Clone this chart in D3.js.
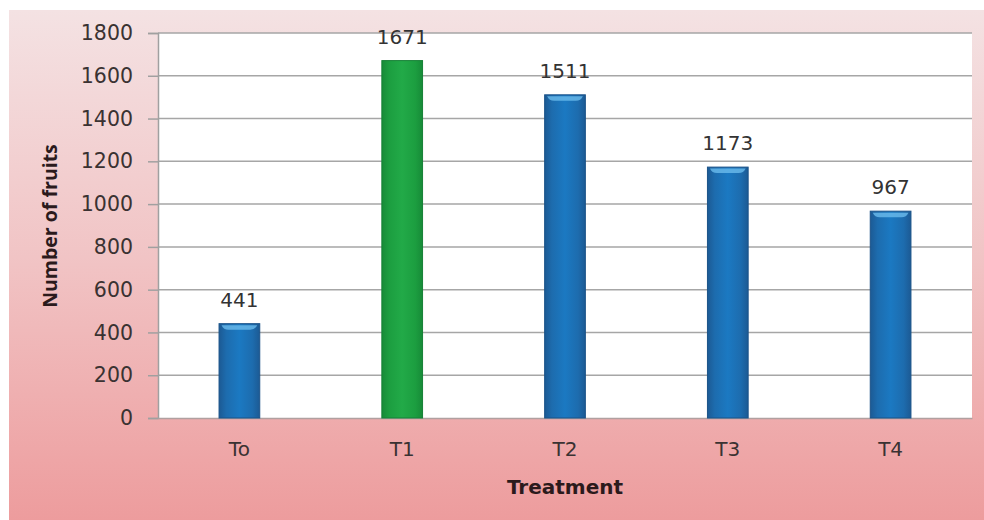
<!DOCTYPE html>
<html><head><meta charset="utf-8">
<script src="https://cdn.jsdelivr.net/npm/d3@7"></script>
<style>html,body{margin:0;padding:0;background:#fff;}svg{display:block;}</style>
</head><body>
<svg id="chart" width="984" height="520"></svg>
<script>
const categories = ["To", "T1", "T2", "T3", "T4"];
const values = [441, 1671, 1511, 1173, 967];
const highlight = ["T1"];
const yTicks = [0, 200, 400, 600, 800, 1000, 1200, 1400, 1600, 1800];
const xTitle = "Treatment";
const yTitle = "Number of fruits";

const W = 984, H = 520;
const svg = d3.select("#chart");
const defs = svg.append("defs");

const bg = defs.append("linearGradient").attr("id","bg").attr("x1",0).attr("y1",0).attr("x2",0).attr("y2",1);
bg.append("stop").attr("offset","0%").attr("stop-color","#f4e2e3");
bg.append("stop").attr("offset","50%").attr("stop-color","#f1c3c4");
bg.append("stop").attr("offset","100%").attr("stop-color","#ed9c9d");

function barGrad(id, edge, mid, center){
  const g = defs.append("linearGradient").attr("id",id).attr("x1",0).attr("y1",0).attr("x2",1).attr("y2",0);
  g.append("stop").attr("offset","0%").attr("stop-color",edge);
  g.append("stop").attr("offset","18%").attr("stop-color",mid);
  g.append("stop").attr("offset","50%").attr("stop-color",center);
  g.append("stop").attr("offset","82%").attr("stop-color",mid);
  g.append("stop").attr("offset","100%").attr("stop-color",edge);
}
barGrad("blue","#1c5a94","#1d6cae","#1b79c2");
barGrad("green","#178b38","#1c9e40","#22aa48");

svg.append("rect").attr("x",9).attr("y",10).attr("width",W-9).attr("height",H-10).attr("fill","url(#bg)");

const m = {left:158, right:972, top:33, bottom:418};
const x = d3.scaleBand().domain(categories).range([m.left, m.right]).paddingInner(0.75).paddingOuter(0.375);
const y = d3.scaleLinear().domain([0,1800]).range([m.bottom, m.top]);

svg.append("rect").attr("x",m.left).attr("y",m.top).attr("width",m.right-m.left).attr("height",m.bottom-m.top).attr("fill","#ffffff");

svg.append("g").selectAll("line").data(yTicks.filter(d=>d>0)).join("line")
  .attr("x1",m.left).attr("x2",m.right).attr("y1",d=>y(d)).attr("y2",d=>y(d))
  .attr("stroke","#a6a6a6").attr("stroke-width",1.5);

const yAxis = svg.append("g").attr("transform",`translate(${m.left},0)`)
  .call(d3.axisLeft(y).tickValues(yTicks).tickSize(10).tickPadding(15).tickFormat(d3.format("d")));
yAxis.select(".domain").attr("stroke","#a0a0a0").attr("stroke-width",1.5);
yAxis.selectAll(".tick line").attr("stroke","#a0a0a0").attr("stroke-width",1.5);
yAxis.selectAll(".tick text").attr("font-family","'DejaVu Sans', sans-serif").attr("font-size",20.5).attr("fill","#3a3232");

const xAxis = svg.append("g").attr("transform",`translate(0,${m.bottom})`)
  .call(d3.axisBottom(x).tickSize(0).tickPadding(24));
xAxis.select(".domain").attr("stroke","#b0a0a0").attr("stroke-width",1.5);
xAxis.selectAll(".tick text").attr("font-family","'DejaVu Sans', sans-serif").attr("font-size",20).attr("fill","#3a3232");

const data = categories.map((c,i)=>({c, v:values[i]}));
const bars = svg.append("g");
bars.selectAll("rect.bar").data(data).join("rect").attr("class","bar")
  .attr("x",d=>x(d.c)).attr("y",d=>y(d.v)).attr("width",x.bandwidth()).attr("height",d=>y(0)-y(d.v))
  .attr("fill",d=>highlight.includes(d.c)?"url(#green)":"url(#blue)")
  .attr("stroke",d=>highlight.includes(d.c)?"#168036":"#1a5288").attr("stroke-width",1);
bars.selectAll("path.cap").data(data.filter(d=>!highlight.includes(d.c))).join("path").attr("class","cap")
  .attr("d",d=>{const x0=x(d.c)+2.5, x1=x(d.c)+x.bandwidth()-2.5, y0=y(d.v)+1.5;
     return `M${x0},${y0} L${x1},${y0} Q${x1-2},${y0+4.5} ${x1-7},${y0+4.5} L${x0+7},${y0+4.5} Q${x0+2},${y0+4.5} ${x0},${y0} Z`;})
  .attr("fill","#6bbcec").attr("opacity",0.8);

svg.append("g").selectAll("text").data(data).join("text")
  .attr("x",d=>x(d.c)+x.bandwidth()/2).attr("y",d=>y(d.v)-17)
  .attr("text-anchor","middle").attr("font-family","'DejaVu Sans', sans-serif").attr("font-size",20).attr("fill","#333")
  .text(d=>d.v);

svg.append("text").attr("x",(m.left+m.right)/2).attr("y",494).attr("text-anchor","middle")
  .attr("font-family","'DejaVu Sans', sans-serif").attr("font-weight","bold").attr("font-size",20).attr("fill","#2b1a1c")
  .text(xTitle);
svg.append("text").attr("transform","translate(57,226) rotate(-90)").attr("text-anchor","middle")
  .attr("font-family","'Open Sans', sans-serif").attr("font-weight","bold").attr("font-size",19.5).attr("fill","#2b1a1c")
  .text(yTitle);
</script>
</body></html>
